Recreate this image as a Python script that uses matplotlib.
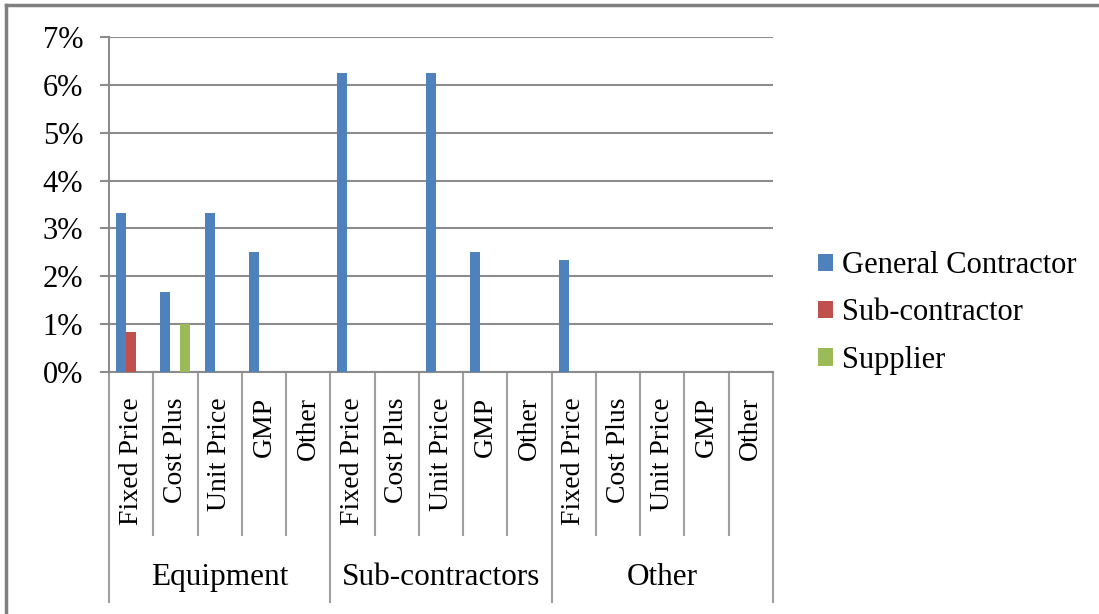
import matplotlib
matplotlib.use('Agg')
import matplotlib.pyplot as plt
import matplotlib.transforms as mtransforms
import numpy as np

plt.rcParams['font.family'] = ['Liberation Serif', 'DejaVu Serif']

groups = ['Equipment', 'Sub-contractors', 'Other']
contract_types = ['Fixed Price', 'Cost Plus', 'Unit Price', 'GMP', 'Other']
series = ['General Contractor', 'Sub-contractor', 'Supplier']
colors = ['#4F81BD', '#C0504D', '#9BBB59']

# shares per (group, contract type), in order of groups then contract types
general_contractor = [0.0333, 0.0167, 0.0333, 0.025, 0.0,
                      0.0625, 0.0, 0.0625, 0.025, 0.0,
                      0.0233, 0.0, 0.0, 0.0, 0.0]
sub_contractor = [0.0083, 0.0, 0.0, 0.0, 0.0,
                  0.0, 0.0, 0.0, 0.0, 0.0,
                  0.0, 0.0, 0.0, 0.0, 0.0]
supplier = [0.0, 0.01, 0.0, 0.0, 0.0,
            0.0, 0.0, 0.0, 0.0, 0.0,
            0.0, 0.0, 0.0, 0.0, 0.0]
values = [general_contractor, sub_contractor, supplier]

W, H = 1099, 614
fig = plt.figure(figsize=(W / 100, H / 100), dpi=100)
ax = fig.add_axes([109 / W, 1 - 372 / H, (773 - 109) / W, (372 - 37) / H])

n = len(groups) * len(contract_types)
centers = np.arange(n) + 0.5
bw = 0.226
for k, (name, vals, c) in enumerate(zip(series, values, colors)):
    ax.bar(centers + (k - 1) * bw, vals, width=bw, color=c, label=name, zorder=3)

ax.set_xlim(0, n)
ax.set_ylim(0, 0.07)
ax.set_yticks(np.arange(0, 0.071, 0.01))
ax.set_yticklabels(['%d%%' % i for i in range(8)])
ax.set_xticks([])
ax.yaxis.grid(True, color='#8C8C8C', linewidth=1.5, zorder=0)
for s in ['top', 'right']:
    ax.spines[s].set_visible(False)
for s in ['left', 'bottom']:
    ax.spines[s].set_color('#8C8C8C')
    ax.spines[s].set_linewidth(1.5)
ax.tick_params(axis='y', length=6.5, width=1.5, color='#8C8C8C', pad=12,
               labelsize=22)

# two-level category axis drawn below the plot
trans = mtransforms.blended_transform_factory(ax.transData, ax.transAxes)
for k in range(n + 1):
    y_end = -0.687 if k % len(contract_types) == 0 else -0.487
    ax.plot([k, k], [0, y_end], color='#A0A0A0', linewidth=1.5,
            transform=trans, clip_on=False)
for i in range(n):
    ax.text(centers[i], -0.075, contract_types[i % len(contract_types)],
            rotation=90, ha='center', va='top', fontsize=20, transform=trans)
for g, name in enumerate(groups):
    ax.text(g * len(contract_types) + len(contract_types) / 2, -0.612, name,
            ha='center', va='center', fontsize=22.5, transform=trans)

ax.legend(loc='center left', bbox_to_anchor=(818 / W, 1 - 313 / H),
          bbox_transform=fig.transFigure, frameon=False, fontsize=22,
          handlelength=0.5, handleheight=0.5, handletextpad=0.3,
          labelspacing=0.6, borderpad=0, borderaxespad=0)

# outer frame (top and left edges)
fig.add_artist(plt.Line2D([6 / W, 1], [1 - 5 / H, 1 - 5 / H], color='#808080',
                          linewidth=2.5, transform=fig.transFigure))
fig.add_artist(plt.Line2D([6 / W, 6 / W], [0, 1 - 5 / H], color='#808080',
                          linewidth=2.5, transform=fig.transFigure))

fig.savefig('out.png', dpi=100)
